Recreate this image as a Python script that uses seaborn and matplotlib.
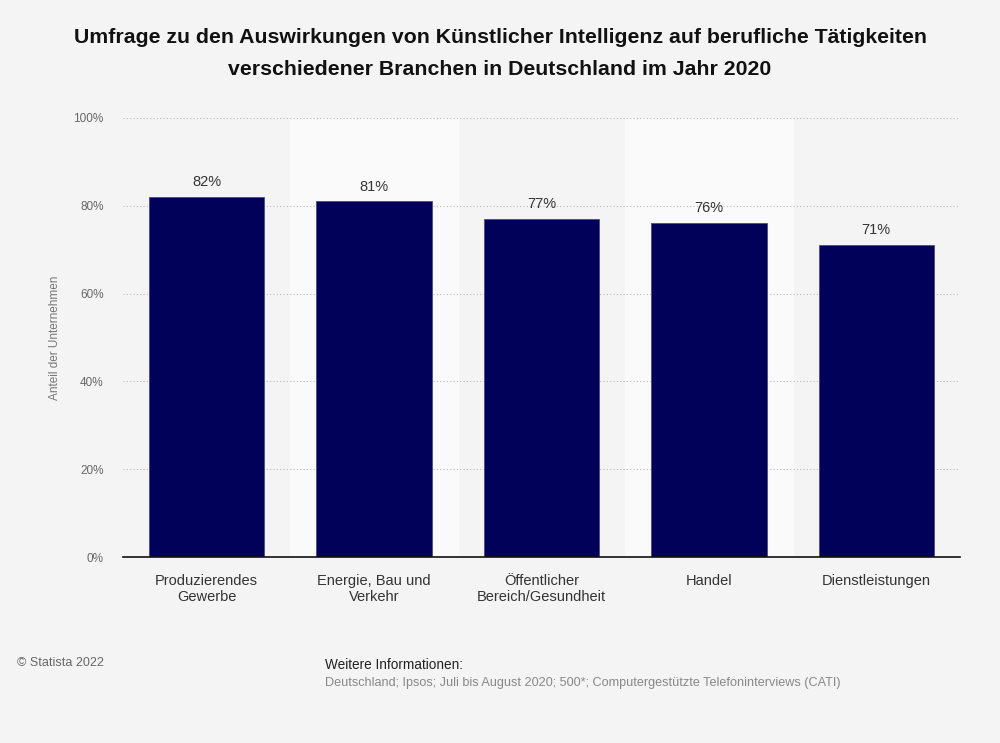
import matplotlib
matplotlib.use('Agg')
import matplotlib.pyplot as plt
import seaborn as sns
import pandas as pd

# Daten aus der Grafik
branchen = ["Produzierendes\nGewerbe", "Energie, Bau und\nVerkehr",
            "Öffentlicher\nBereich/Gesundheit", "Handel", "Dienstleistungen"]
anteile = [82, 81, 77, 76, 71]
y_ticks = [0, 20, 40, 60, 80, 100]

df = pd.DataFrame({"Branche": branchen, "Anteil": anteile})

sns.set_theme(style="white")
plt.rcParams['font.family'] = ['Liberation Sans', 'DejaVu Sans']

BG = "#f4f4f4"
fig = plt.figure(figsize=(10, 7.43), dpi=100, facecolor=BG)
ax = fig.add_axes([0.123, 0.2503, 0.837, 0.5909])
ax.set_facecolor(BG)

# hellere Hintergrundstreifen hinter jeder zweiten Kategorie
for i in range(len(branchen)):
    if i % 2 == 1:
        ax.axvspan(i - 0.5, i + 0.5, color="#fafafa", zorder=0)

sns.barplot(data=df, x="Branche", y="Anteil", color="#01015a", width=0.69,
            edgecolor="#4a4a8a", linewidth=0.6, saturation=1, ax=ax, zorder=3)

for i, v in enumerate(anteile):
    ax.text(i, v + 1.8, f"{v}%", ha="center", va="bottom", fontsize=10.5,
            color="#333333", zorder=4)

ax.set_xlim(-0.5, len(branchen) - 0.5)
ax.set_ylim(0, 100)
ax.set_yticks(y_ticks)
ax.set_yticklabels([f"{t}%" for t in y_ticks], fontsize=8.5, color="#666666")
ax.yaxis.grid(True, linestyle=(0, (1, 2)), color="#bbbbbb", linewidth=0.8)
ax.set_axisbelow(True)
ax.tick_params(axis="y", length=0, pad=14)
ax.tick_params(axis="x", length=0, pad=12, labelsize=10.5, labelcolor="#333333")
for s in ["top", "right", "left"]:
    ax.spines[s].set_visible(False)
ax.spines["bottom"].set_color("#111111")
ax.spines["bottom"].set_linewidth(1.2)
ax.spines["bottom"].set_zorder(5)

ax.set_xlabel("")
ax.set_ylabel("Anteil der Unternehmen", fontsize=8.5, color="#777777", labelpad=0)
ax.yaxis.set_label_coords(-0.074, 0.5)

fig.text(0.5, 0.928, "Umfrage zu den Auswirkungen von Künstlicher Intelligenz auf berufliche Tätigkeiten\n"
         "verschiedener Branchen in Deutschland im Jahr 2020",
         ha="center", va="center", fontsize=15.3, fontweight="bold", color="#111111",
         linespacing=1.85)

fig.text(0.017, 0.107, "© Statista 2022", fontsize=9, color="#666666", va="center")
fig.text(0.325, 0.105, "Weitere Informationen:", fontsize=9.8, color="#222222", va="center")
fig.text(0.325, 0.081, "Deutschland; Ipsos; Juli bis August 2020; 500*; Computergestützte Telefoninterviews (CATI)",
         fontsize=9.1, color="#888888", va="center")

fig.savefig("out.png", dpi=100, facecolor=BG)
